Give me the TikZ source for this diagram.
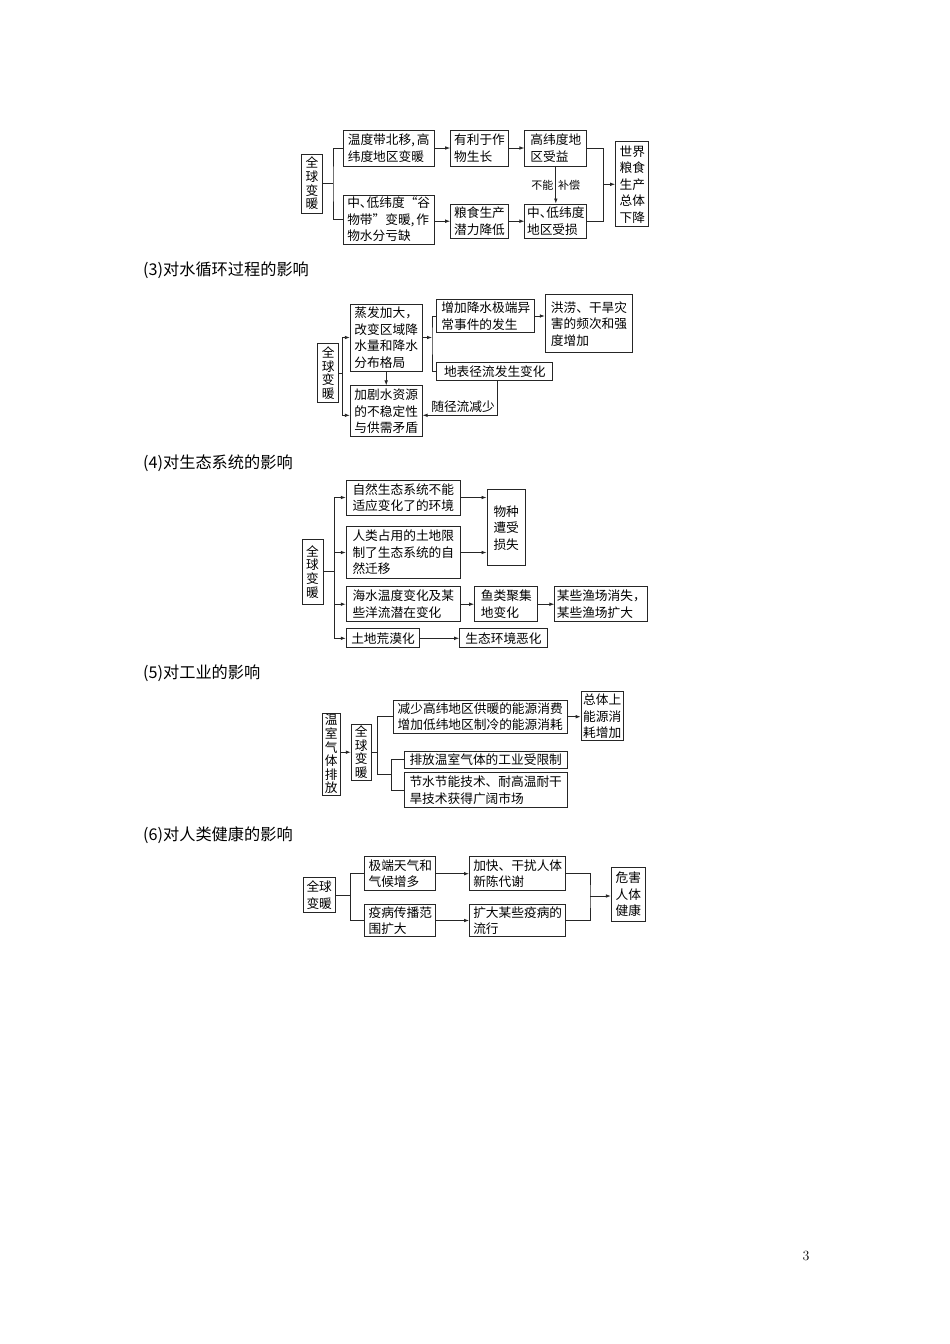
\documentclass[tikz,border=0pt]{standalone}
\usepackage{fontspec}
\usepackage{tikz}
\usetikzlibrary{arrows.meta}
\usetikzlibrary{calc}
\newfontfamily\zh{Noto Sans CJK SC}

\tikzset{
  >={Latex[length=5pt,width=3.6pt]},
  kasten/.style={draw=black!85, line width=1pt, inner xsep=2pt, inner ysep=1pt,
    align=left, font=\zh\fontsize{12.7}{16.5}\selectfont},
  senk/.style={kasten, align=center, font=\zh\fontsize{12.7}{13.6}\selectfont},
  ueber/.style={anchor=west, inner sep=0pt, font=\zh\fontsize{16.2}{18}\selectfont},
  klein/.style={inner sep=2pt, font=\zh\fontsize{11}{12}\selectfont},
  linie/.style={draw=black!85, line width=0.8pt},
  pfeil/.style={linie, ->}
}

\begin{document}
\begin{tikzpicture}[x=1pt,y=-1pt]
  \fill[white] (0,0) rectangle (950,1344);
  \useasboundingbox (0,0) rectangle (950,1344);

  % Ernte
  \node[senk, minimum width=20.5pt, minimum height=59pt] (s1warm) at (312,183.5) {全\\球\\变\\暖};
  \foreach \name/\px/\py/\bw/\bh/\txt in {
      s1a/388.7/148/90.7/36/{温度带北移,\kern2pt高\\纬度地区变暖},
      s1b/388.7/219.5/90.7/49/{中、\kern-6pt低纬度“谷\\物带”变暖,\kern2pt作\\物水分亏缺},
      s1c/479.5/148/57.6/36/{有利于作\\物生长},
      s1d/555.8/148/61.7/36/{高纬度地\\区受益},
      s1e/479.5/221.2/57.6/34.3/{粮食生产\\潜力降低},
      s1f/555.8/221.2/61.7/34.3/{中、\kern-6pt低纬度\\地区受损},
      s1g/632.3/184.3/33.3/84.7/{世界\\粮食\\生产\\总体\\下降}}
  {
    \node[kasten, minimum width=\bw pt, minimum height=\bh pt] (\name) at (\px,\py) {\txt};
  }
  \coordinate (j1) at (333,184);
  \coordinate (k1) at (603.5,184.3);
  \draw[linie] (s1warm.east) -- (s1warm.east -| j1);
  \draw[linie] (s1a.west) -| (j1) |- (s1b.west);
  \draw[pfeil] (s1a) -- (s1c);
  \draw[pfeil] (s1c) -- (s1d);
  \draw[pfeil] (s1b.east |- s1e) -- (s1e);
  \draw[pfeil] (s1e) -- (s1f);
  \draw[pfeil] (s1d) -- (s1f) node[klein, pos=0.5, left] (l1a) {不能} node[klein, pos=0.5, right] (l1b) {补偿};
  \draw[linie] (s1d.east) -| (k1) |- (s1f.east);
  \draw[pfeil] (k1) -- (s1g);

  % Wasserkreislauf
  \node[ueber] (h3) at (143,270) {(3)对水循环过程的影响};
  \node[senk, minimum width=20.7pt, minimum height=59.4pt] (s3warm) at (328.3,373) {全\\球\\变\\暖};
  \foreach \name/\px/\py/\bw/\bh/\txt in {
      s3a/386.2/337.5/71.7/67/{蒸发加大，\\改变区域降\\水量和降水\\分布格局},
      s3b/386.2/411.3/71.7/50.7/{加剧水资源\\的不稳定性\\与供需矛盾},
      s3c/485.8/316/97.7/33.4/{增加降水极端异\\常事件的发生},
      s3d/494.8/371.7/115.7/18/{地表径流发生变化},
      s3e/589/323.8/87.4/57.7/{洪涝、干旱灾\\害的频次和强\\度增加}}
  {
    \node[kasten, minimum width=\bw pt, minimum height=\bh pt] (\name) at (\px,\py) {\txt};
  }
  \coordinate (j3) at (342.7,373);
  \coordinate (k3) at (432,338);
  \draw[linie] (s3warm.east) -- (j3);
  \draw[pfeil] (j3) |- (s3a);
  \draw[pfeil] (j3) |- ([yshift=-4pt]s3b.west);
  \draw[pfeil] (s3a) -- (s3b);
  \draw[pfeil] (s3a.east) -- (s3a.east -| k3);
  \draw[linie] (s3c.west) -| (k3) |- (s3d.west);
  \draw[pfeil] (s3c.east) -- (s3c.east -| s3e.west);
  \draw[pfeil] ([xshift=3pt]s3d.south) |- ([yshift=-4pt]s3b.east)
    node[kasten, draw=none, pos=0.5, anchor=south east, inner sep=2.5pt] (l3) {随径流减少};

  % Oekosysteme
  \node[ueber] (h4) at (143,463.5) {(4)对生态系统的影响};
  \node[senk, minimum width=21pt, minimum height=64.5pt] (s4warm) at (312.5,571.8) {全\\球\\变\\暖};
  \foreach \name/\px/\py/\bw/\bh/\txt in {
      s4a/403.3/497.5/114/35/{自然生态系统不能\\适应变化了的环境},
      s4b/403.3/552.5/114/51.6/{人类占用的土地限\\制了生态系统的自\\然迁移},
      s4c/403.3/604.2/114/35/{海水温度变化及某\\些洋流潜在变化},
      s4d/383/638.3/73.4/18.7/{土地荒漠化},
      s4e/506.2/527.8/38.3/75.7/{物种\\遭受\\损失},
      s4f/506.3/604.2/63.3/35/{鱼类聚集\\地变化},
      s4g/601.3/604.2/92/35/{某些渔场消失，\\某些渔场扩大},
      s4h/503.5/638.3/87.6/18.7/{生态环境恶化}}
  {
    \node[kasten, minimum width=\bw pt, minimum height=\bh pt] (\name) at (\px,\py) {\txt};
  }
  \coordinate (j4) at (334,571.8);
  \draw[linie] (s4warm.east) -- (j4);
  \draw[linie] (j4 |- s4a) -- (j4 |- s4d);
  \foreach \ziel in {s4a,s4b,s4c,s4d}
    \draw[pfeil] (j4 |- \ziel) -- (\ziel);
  \draw[pfeil] (s4a.east) -- (s4a.east -| s4e.west);
  \draw[pfeil] (s4b.east) -- (s4b.east -| s4e.west);
  \draw[pfeil] (s4c) -- (s4f);
  \draw[pfeil] (s4f) -- (s4g);
  \draw[pfeil] (s4d) -- (s4h);

  % Industrie
  \node[ueber] (h5) at (143,673.3) {(5)对工业的影响};
  \node[senk, minimum width=17.5pt, minimum height=81.7pt] (s5src) at (331.3,754.2) {温\\室\\气\\体\\排\\放};
  \node[senk, minimum width=20pt, minimum height=55.7pt] (s5warm) at (361.3,752.2) {全\\球\\变\\暖};
  \foreach \name/\px/\py/\bw/\bh/\txt in {
      s5a/480.2/716.7/174.3/33.3/{减少高纬地区供暖的能源消费\\增加低纬地区制冷的能源消耗},
      s5b/602.2/716.3/41.7/49.3/{总体上\\能源消\\耗增加},
      s5c/485.7/759.7/163.3/17.3/{排放温室气体的工业受限制},
      s5d/485.7/790/163.3/35.4/{节水节能技术、耐高温耐干\\旱技术获得广阔市场}}
  {
    \node[kasten, minimum width=\bw pt, minimum height=\bh pt] (\name) at (\px,\py) {\txt};
  }
  \coordinate (j5) at (377.3,774.3);
  \coordinate (k5) at (391.3,774.3);
  \draw[pfeil] (s5src.east |- s5warm) -- (s5warm);
  \draw[linie] (s5warm.east) -- (s5warm.east -| j5);
  \draw[linie] (s5a.west) -| (j5) -- (k5);
  \draw[linie] (s5c.west) -| (k5) |- (s5d.west);
  \draw[pfeil] (s5a.east) -- (s5a.east -| s5b.west);

  % Gesundheit
  \node[ueber] (h6) at (143,835.2) {(6)对人类健康的影响};
  \foreach \name/\px/\py/\bw/\bh/\txt in {
      s6warm/319.2/895.2/32.4/35.5/{全球\\变暖},
      s6a/400.3/873.7/70.9/34.4/{极端天气和\\气候增多},
      s6b/400.3/920.5/70.9/32/{疫病传播范\\围扩大},
      s6c/517.7/873.7/96.3/34.4/{加快、干扰人体\\新陈代谢},
      s6d/517.7/920.5/96.3/32/{扩大某些疫病的\\流行},
      s6e/628.3/894.3/33.8/54/{危害\\人体\\健康}}
  {
    \node[kasten, minimum width=\bw pt, minimum height=\bh pt] (\name) at (\px,\py) {\txt};
  }
  \coordinate (j6) at (350.3,895.2);
  \coordinate (k6) at (590,896);
  \draw[linie] (s6warm.east) -- (j6);
  \draw[linie] (s6a.west) -| (j6) |- (s6b.west);
  \draw[pfeil] (s6a) -- (s6c);
  \draw[pfeil] (s6b) -- (s6d);
  \draw[linie] (s6c.east) -| (k6) |- (s6d.east);
  \draw[pfeil] (k6) -- (k6 -| s6e.west);

  \node[font=\fontsize{14}{14}\selectfont] (seite) at (806,1256) {3};
\end{tikzpicture}
\end{document}
